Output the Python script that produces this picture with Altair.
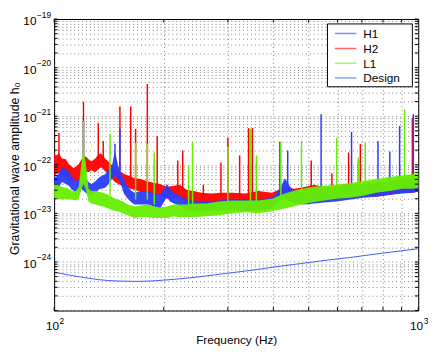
import altair as alt
import pandas as pd

FONT = "Liberation Sans"

# ---------------- data ----------------
series_names = ["H1", "H2", "L1", "Design"]
series_colors = ["#2a3cff", "#ff0000", "#66ee00", "#3f5bff"]

# H2 noise band (Hz, upper, lower)
h2_f = [100, 101.2, 103.1, 105.1, 107.7, 109.8, 113.2, 116.8, 119.0, 122.0,
        124.3, 126.6, 129.8, 132.2, 134.7, 138.1, 140.7, 144.2, 146.9, 151.6,
        156.4, 161.3, 166.3, 172.6, 180.3, 188.3, 195.5, 204.2, 213.3, 221.3,
        231.1, 241.4, 253.7, 270.0, 287.2, 309.4, 335.5, 363.6, 396.7, 430.0,
        457.5, 486.7, 518.0, 551.0, 597.4, 651.8, 706.5, 765.6, 835.4, 905.6,
        963.5, 1000]
h2_hi = [1.71e-22, 1.56e-22, 1.71e-22, 1.35e-22, 1.30e-22, 1.02e-22, 8.5e-23, 1.02e-22, 1.30e-22, 1.50e-22,
         1.30e-22, 1.18e-22, 1.35e-22, 1.63e-22, 1.71e-22, 1.35e-22, 1.18e-22, 9.8e-23, 8.5e-23, 7.4e-23,
         6.4e-23, 5.9e-23, 5.3e-23, 5.1e-23, 4.6e-23, 4.2e-23, 4.0e-23, 3.5e-23, 3.7e-23, 3.9e-23,
         3.05e-23, 2.9e-23, 2.65e-23, 2.55e-23, 2.65e-23, 2.65e-23, 2.55e-23, 2.9e-23, 2.65e-23, 3.5e-23,
         3.2e-23, 3.5e-23, 3.9e-23, 3.5e-23, 3.5e-23, 4.0e-23, 4.0e-23, 3.5e-23, 3.5e-23, 4.0e-23,
         4.4e-23, 4.4e-23]
h2_lo = [5.9e-23, 6.4e-23, 6.7e-23, 5.6e-23, 5.9e-23, 4.9e-23, 4.6e-23, 4.4e-23, 5.6e-23, 7.4e-23,
         7.0e-23, 7.7e-23, 7.0e-23, 8.1e-23, 8.9e-23, 7.4e-23, 6.7e-23, 5.1e-23, 4.4e-23, 3.9e-23,
         3.5e-23, 3.2e-23, 3.05e-23, 2.8e-23, 2.65e-23, 2.4e-23, 2.3e-23, 2.0e-23, 2.0e-23, 2.2e-23,
         1.67e-23, 1.52e-23, 1.45e-23, 1.45e-23, 1.39e-23, 1.39e-23, 1.2e-23, 1.52e-23, 1.59e-23, 2.0e-23,
         1.83e-23, 1.75e-23, 2.0e-23, 2.0e-23, 2.0e-23, 2.0e-23, 2.3e-23, 2.2e-23, 2.4e-23, 2.65e-23,
         2.65e-23, 2.78e-23]
# H2 lines (Hz, peak, foot)
h2_spk_f = [103.1, 120.4, 132.2, 136.4, 151.6, 162.3, 167.4, 180.3, 191.9, 218.6, 225.5, 256.9,
            287.2, 300.0, 323.2, 341.8, 350.4, 508.3, 579.1, 643.8, 693.5, 963.5]
h2_spk_top = [4.53e-22, 2.0e-21, 7.2e-22, 3.1e-22, 1.59e-21, 1.59e-21, 5.5e-22, 4.6e-21, 3.9e-22, 1.23e-22,
              1.96e-22, 3.9e-23, 1.12e-22, 3.6e-22, 1.56e-22, 5.7e-22, 5.7e-22, 1.23e-22, 6.7e-23, 1.79e-22,
              2.7e-22, 9.1e-22]
h2_spk_base = [9.8e-23, 9.8e-23, 9.8e-23, 1.12e-22, 5.3e-23, 4.9e-23, 4.2e-23, 3.9e-23, 3.05e-23, 2.8e-23,
               2.8e-23, 2.1e-23, 2.1e-23, 2.1e-23, 2.1e-23, 1.92e-23, 1.92e-23, 2.4e-23, 2.4e-23, 2.8e-23,
               3.05e-23, 3.35e-23]

# H1 noise band
h1_f = [100, 101.2, 103.1, 105.1, 107.7, 109.8, 111.8, 114.6, 116.8, 119.0,
        122.0, 124.3, 126.6, 129.8, 132.2, 134.7, 138.1, 140.7, 144.2, 146.9,
        149.7, 151.6, 155.4, 159.3, 163.3, 166.3, 172.6, 180.3, 188.3, 195.5,
        204.2, 208.0, 213.3, 221.3, 231.1, 241.4, 261.7, 283.7, 309.4, 335.5,
        363.6, 396.7, 416.9, 430.0, 443.6, 457.5, 486.7, 518.0, 551.0, 597.4,
        651.8, 706.5, 765.6, 835.4, 905.6, 963.5, 1000]
h1_hi = [5.9e-23, 5.6e-23, 6.7e-23, 8.9e-23, 8.1e-23, 7.4e-23, 5.6e-23, 4.6e-23, 5.1e-23, 6.4e-23,
         5.3e-23, 4.4e-23, 4.0e-23, 4.6e-23, 5.3e-23, 5.9e-23, 6.4e-23, 7.7e-23, 9.8e-23, 1.96e-22,
         9.8e-23, 7.7e-23, 5.1e-23, 3.5e-23, 2.9e-23, 2.65e-23, 2.9e-23, 2.9e-23, 2.55e-23, 2.42e-23,
         4.0e-23, 3.2e-23, 2.65e-23, 2.3e-23, 1.92e-23, 1.83e-23, 1.75e-23, 1.83e-23, 2.0e-23, 1.92e-23,
         1.92e-23, 2.1e-23, 3.2e-23, 5.3e-23, 3.7e-23, 2.65e-23, 2.78e-23, 2.9e-23, 3.05e-23, 3.2e-23,
         3.5e-23, 4.0e-23, 4.2e-23, 4.6e-23, 5.1e-23, 5.3e-23, 5.3e-23]
h1_lo = [2.9e-23, 3.2e-23, 3.5e-23, 4.4e-23, 4.0e-23, 3.7e-23, 3.05e-23, 2.78e-23, 2.9e-23, 3.2e-23,
         2.65e-23, 2.42e-23, 2.3e-23, 2.65e-23, 3.05e-23, 3.2e-23, 3.35e-23, 3.9e-23, 5.1e-23, 5.9e-23,
         5.1e-23, 4.6e-23, 2.55e-23, 2.0e-23, 1.67e-23, 1.52e-23, 1.52e-23, 1.52e-23, 1.39e-23, 1.26e-23,
         2.2e-23, 1.75e-23, 1.59e-23, 1.45e-23, 1.15e-23, 1.1e-23, 1.1e-23, 1.15e-23, 1.15e-23, 1.1e-23,
         1.15e-23, 1.26e-23, 1.83e-23, 2.0e-23, 1.75e-23, 1.59e-23, 1.52e-23, 1.59e-23, 1.67e-23, 1.75e-23,
         1.92e-23, 2.1e-23, 2.2e-23, 2.42e-23, 2.55e-23, 2.65e-23, 2.78e-23]
h1_spk_f = [120.4, 146.9, 151.6, 346.1, 416.9, 438.1, 541.0, 655.9, 685.0, 775.2, 835.4, 888.9, 969.5]
h1_spk_top = [7.9e-22, 2.7e-22, 5.5e-22, 5.5e-22, 2.98e-22, 1.96e-22, 1.1e-21, 4.75e-22, 1.23e-22,
              3.1e-22, 1.87e-22, 6.3e-22, 1.1e-21]
h1_spk_base = [4.9e-23, 1.23e-22, 7.7e-23, 1.92e-23, 2.4e-23, 2.4e-23, 2.8e-23, 3.05e-23, 3.05e-23,
               3.35e-23, 3.7e-23, 3.7e-23, 3.9e-23]

# L1 noise band
l1_f = [100, 101.2, 103.1, 105.1, 107.7, 109.8, 111.8, 114.6, 116.8, 119.0,
        120.4, 122.0, 124.3, 126.6, 129.8, 132.2, 136.4, 140.7, 145.1, 149.7,
        154.4, 159.3, 166.3, 172.6, 180.3, 188.3, 195.5, 204.2, 213.3, 221.3,
        231.1, 241.4, 261.7, 283.7, 309.4, 335.5, 363.6, 396.7, 430.0, 466.1,
        508.3, 551.0, 597.4, 651.8, 706.5, 765.6, 835.4, 905.6, 963.5, 1000]
l1_hi = [4.0e-23, 4.2e-23, 3.7e-23, 3.5e-23, 3.35e-23, 3.2e-23, 2.9e-23, 2.9e-23, 3.5e-23, 1.18e-22,
         1.87e-22, 1.18e-22, 3.2e-23, 2.9e-23, 2.9e-23, 2.78e-23, 2.65e-23, 2.42e-23, 2.1e-23, 1.92e-23,
         1.75e-23, 1.52e-23, 1.39e-23, 1.45e-23, 1.52e-23, 1.39e-23, 1.32e-23, 1.39e-23, 1.52e-23, 1.52e-23,
         1.52e-23, 1.59e-23, 1.59e-23, 1.75e-23, 1.83e-23, 1.83e-23, 1.83e-23, 2.0e-23, 2.55e-23, 3.05e-23,
         3.5e-23, 3.7e-23, 3.9e-23, 4.2e-23, 4.6e-23, 5.1e-23, 5.6e-23, 6.1e-23, 6.4e-23, 6.7e-23]
l1_lo = [2.0e-23, 2.1e-23, 2.0e-23, 1.92e-23, 2.0e-23, 1.92e-23, 1.92e-23, 1.83e-23, 2.0e-23, 3.2e-23,
         4.0e-23, 3.2e-23, 1.75e-23, 1.59e-23, 1.52e-23, 1.45e-23, 1.39e-23, 1.26e-23, 1.15e-23, 1.1e-23,
         1.0e-23, 9.1e-24, 8.0e-24, 8.3e-24, 8.3e-24, 8.0e-24, 8.0e-24, 8.0e-24, 8.7e-24, 8.3e-24,
         8.3e-24, 8.3e-24, 8.7e-24, 9.1e-24, 1.0e-23, 1.05e-23, 1.0e-23, 1.1e-23, 1.26e-23, 1.45e-23,
         1.67e-23, 1.83e-23, 2.0e-23, 2.1e-23, 2.3e-23, 2.65e-23, 2.9e-23, 3.2e-23, 3.2e-23, 3.35e-23]
l1_spk_f = [120.4, 142.4, 167.4, 180.3, 188.3, 234.0, 239.9, 300.0, 346.1, 359.2, 419.5, 477.8,
            597.4, 685.0, 715.3, 916.9]
l1_spk_top = [7.9e-22, 4.3e-22, 2.85e-22, 2.7e-22, 1.79e-22, 9.8e-23, 2.98e-22, 2.36e-22, 5.5e-22,
              1.56e-22, 2.98e-22, 3.1e-22, 3.6e-22, 1.42e-22, 2.85e-22, 1.38e-21]
l1_spk_base = [7.7e-23, 2.4e-23, 1.92e-23, 1.92e-23, 1.52e-23, 1.52e-23, 1.52e-23, 1.67e-23, 1.67e-23,
               1.67e-23, 1.92e-23, 2.2e-23, 2.8e-23, 3.05e-23, 3.35e-23, 4.4e-23]

# Design sensitivity curve
design_f = [100, 116.8, 132.2, 149.7, 169.5, 191.9, 217.3, 245.9, 277.8, 315.2, 356.9, 404.2,
            457.5, 551.0, 663.9, 799.8, 1000]
design_a = [6.14e-25, 4.98e-25, 4.33e-25, 4.04e-25, 3.98e-25, 4.13e-25, 4.43e-25, 4.86e-25, 5.46e-25,
            6.14e-25, 6.89e-25, 7.93e-25, 8.9e-25, 1.07e-24, 1.26e-24, 1.52e-24, 1.87e-24]

# axis labels
y_label_vals = [1e-19, 1e-20, 1e-21, 1e-22, 1e-23, 1e-24]
y_label_exps = ["\u221219", "\u221220", "\u221221", "\u221222", "\u221223", "\u221224"]
x_label_vals = [100, 1000]
x_label_exps = ["2", "3"]

x_grid = [100, 200, 300, 400, 500, 600, 700, 800, 900, 1000]
y_grid = [m * 10.0 ** e for e in range(-25, -19) for m in range(1, 10)] + [1e-19]

# ---------------- chart ----------------
W, H = 371, 297

xscale = alt.Scale(type="log", domain=[100, 1000], nice=False)
yscale = alt.Scale(type="log", domain=[1e-25, 1e-19], nice=False)
xaxis = alt.Axis(values=x_grid, labels=False, ticks=False, domain=False, grid=True,
                 title="Frequency (Hz)", titleFont=FONT, titleFontSize=12, titleFontWeight="normal",
                 titleColor="black", titleX=W / 2, titleY=34, titleBaseline="alphabetic",
                 titleAlign="center")
yaxis = alt.Axis(values=y_grid, labels=False, ticks=False, domain=False, grid=True,
                 title="Gravitational wave amplitude h\u2080", titleFont=FONT, titleFontSize=12.5,
                 titleFontWeight="normal", titleColor="black", titleX=-36, titleY=152,
                 titleAngle=270, titleBaseline="alphabetic", titleAlign="center")

X = alt.X("f:Q", scale=xscale, axis=xaxis)
Y = alt.Y("a:Q", scale=yscale, axis=yaxis)


def band(f, lo, hi, color):
    df = pd.DataFrame({"f": f, "a": lo, "a2": hi})
    return alt.Chart(df).mark_area(color=color, opacity=0.95).encode(
        x=X, y=Y, y2=alt.Y2("a2:Q"))


def spikes(f, top, base, color):
    df = pd.DataFrame({"f": f, "a": top, "a2": base})
    return alt.Chart(df).mark_rule(color=color, strokeWidth=1.5).encode(x=X, y=Y, y2=alt.Y2("a2:Q"))


layers = [
    band(h2_f, h2_lo, h2_hi, series_colors[1]),
    spikes(h2_spk_f, h2_spk_top, h2_spk_base, series_colors[1]),
    band(h1_f, h1_lo, h1_hi, series_colors[0]),
    spikes(h1_spk_f, h1_spk_top, h1_spk_base, series_colors[0]),
    band(l1_f, l1_lo, l1_hi, series_colors[2]),
    spikes(l1_spk_f, l1_spk_top, l1_spk_base, series_colors[2]),
    alt.Chart(pd.DataFrame({"f": design_f, "a": design_a})).mark_line(
        color=series_colors[3], strokeWidth=1, interpolate="monotone").encode(x=X, y=Y),
]

# inner ticks (Matlab style, all four sides)
ydf = pd.DataFrame({"a": y_grid})
xdf = pd.DataFrame({"f": x_grid})
tick_len = 3.5
layers += [
    alt.Chart(ydf).mark_rule(color="black", strokeWidth=1).encode(y=Y, x=alt.value(0), x2=alt.value(tick_len)),
    alt.Chart(ydf).mark_rule(color="black", strokeWidth=1).encode(y=Y, x=alt.value(W - tick_len), x2=alt.value(W)),
    alt.Chart(xdf).mark_rule(color="black", strokeWidth=1).encode(x=X, y=alt.value(H - tick_len), y2=alt.value(H)),
    alt.Chart(xdf).mark_rule(color="black", strokeWidth=1).encode(x=X, y=alt.value(0), y2=alt.value(tick_len)),
]

# tick labels with superscripts
ylab = pd.DataFrame({"a": y_label_vals, "e": y_label_exps, "b": ["10"] * len(y_label_vals)})
xlab = pd.DataFrame({"f": x_label_vals, "e": x_label_exps, "b": ["10"] * len(x_label_vals)})
layers += [
    alt.Chart(ylab).mark_text(align="right", baseline="alphabetic", font=FONT, fontSize=12, dy=6,
                              color="black").encode(y=Y, x=alt.value(-18), text="b:N"),
    alt.Chart(ylab).mark_text(align="left", baseline="alphabetic", font=FONT, fontSize=8.5, dy=-1.5,
                              color="black").encode(y=Y, x=alt.value(-17.5), text="e:N"),
    alt.Chart(xlab).mark_text(align="right", baseline="alphabetic", font=FONT, fontSize=12, dx=5,
                              color="black").encode(x=X, y=alt.value(H + 20), text="b:N"),
    alt.Chart(xlab).mark_text(align="left", baseline="alphabetic", font=FONT, fontSize=8.5, dx=5.5,
                              color="black").encode(x=X, y=alt.value(H + 13.5), text="e:N"),
]

# legend box
layers.append(
    alt.Chart(pd.DataFrame({"k": [0]})).mark_rect(fill="white", stroke="black", strokeWidth=1).encode(
        x=alt.value(278.5), x2=alt.value(365), y=alt.value(5), y2=alt.value(69)))
leg_y = [14.7, 30.0, 45.0, 60.0]
for name, col, yy in zip(series_names, series_colors, leg_y):
    layers.append(alt.Chart(pd.DataFrame({"t": [name]})).mark_rule(color=col, strokeWidth=1.5, opacity=0.6).encode(
        x=alt.value(286), x2=alt.value(308), y=alt.value(yy)))
    layers.append(alt.Chart(pd.DataFrame({"t": [name]})).mark_text(
        align="left", baseline="middle", font=FONT, fontSize=12, color="black").encode(
        x=alt.value(315), y=alt.value(yy + 0.5), text="t:N"))

chart = alt.layer(*layers).properties(
    width=W, height=H,
    autosize=alt.AutoSizeParams(type="none"),
    padding={"left": 47, "top": 8, "right": 13, "bottom": 38},
).configure_view(stroke="black", strokeWidth=1).configure_axis(
    gridColor="#000", gridDash=[1, 3], gridOpacity=0.5, gridWidth=1)

chart.save("out.html", embed_options={"renderer": "svg", "actions": False})
